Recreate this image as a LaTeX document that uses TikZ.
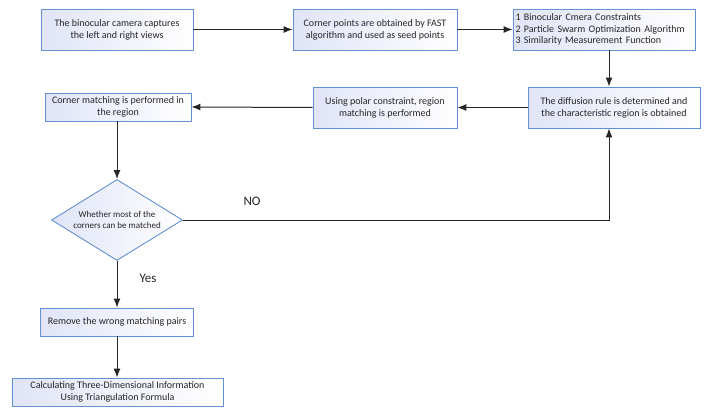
\documentclass[tikz,border=0pt]{standalone}
\usepackage{fontspec}
\setmainfont{Carlito}
\usetikzlibrary{arrows.meta,shapes.geometric}

\definecolor{edgeblue}{RGB}{98,146,212}
\definecolor{shadeblue}{RGB}{224,228,247}

\begin{document}
\begin{tikzpicture}[x=1pt, y=-1pt, every node/.style={font=\fontsize{10}{11.8}\selectfont, text=black!85}, >={Latex[length=9pt,width=7pt]}]
	\tikzset{
		stepbox/.style={draw=edgeblue, line width=0.9pt, left color=shadeblue, right color=white, inner sep=0pt, minimum height=41pt, align=center},
		testbox/.style={diamond, draw=edgeblue, line width=0.9pt, left color=shadeblue, right color=white, inner sep=0pt, shape aspect=1.62, minimum width=131pt, minimum height=81pt, align=center, font=\fontsize{9}{11}\selectfont},
		flow/.style={->, line width=1pt, black!85},
		answer/.style={font=\fontsize{13}{15}\selectfont}
	}
	\useasboundingbox (0,0) rectangle (714,415);
	% top row
	\node[stepbox, minimum width=152pt] (capture) at (117,29.5) {The binocular camera captures\\the left and right views};
	\node[stepbox, minimum width=164pt] (fast) at (375,29.5) {Corner points are obtained by FAST\\algorithm and used as seed points};
	\node[stepbox, minimum width=182pt, align=left, text width=177pt] (rules) at (604,29.5) {1 Binocular Cmera Constraints\\2 Particle Swarm Optimization Algorithm\\3 Similarity Measurement Function};
	% second row
	\node[stepbox, minimum width=172pt] (diffuse) at (614,107.5) {The diffusion rule is determined and\\the characteristic region is obtained};
	\node[stepbox, minimum width=144pt] (polar) at (385,107.5) {Using polar constraint, region\\matching is performed};
	\node[stepbox, minimum width=146pt, minimum height=28pt] (corner) at (118,107) {Corner matching is performed in\\the region};
	% decision and result
	\node[testbox] (check) at (117,220) {Whether most of the\\corners can be matched};
	\node[stepbox, minimum width=153pt, minimum height=28pt] (remove) at (117,322) {Remove the wrong matching pairs};
	\node[stepbox, minimum width=211pt, minimum height=28pt] (triang) at (117.5,392) {Calculating Three-Dimensional Information\\Using Triangulation Formula};
	\coordinate (turn) at (609,220);
	% connectors
	\draw[flow] (capture.east) -- (fast.west);
	\draw[flow] (fast.east) -- (rules.west);
	\draw[flow] (rules.south -| turn) -- (diffuse.north -| turn);
	\draw[flow] (diffuse.west) -- (polar.east);
	\draw[flow] (polar.west) -- (corner.east);
	\draw[flow] (corner.south -| check) -- (check.north);
	\draw[flow] (check.east) -- (turn) -- (diffuse.south -| turn);
	\draw[flow] (check.south) -- (remove.north);
	\draw[flow] (remove.south) -- (triang.north -| remove);
	\node[answer] (no) at (252,201) {NO};
	\node[answer] (yes) at (148,278) {Yes};
\end{tikzpicture}
\end{document}
